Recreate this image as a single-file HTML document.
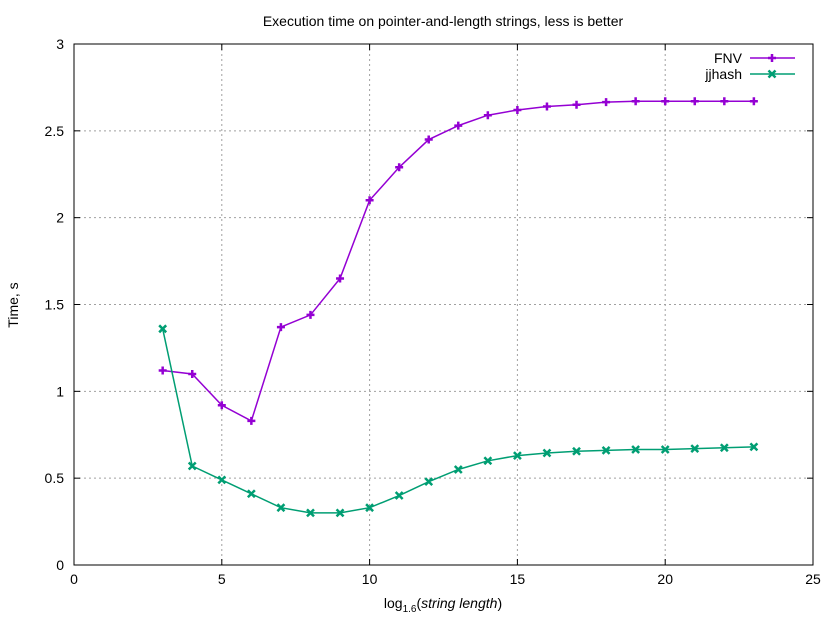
<!DOCTYPE html>
<html><head><meta charset="utf-8"><style>
body{margin:0;background:#fff;}
svg{display:block;font-family:"Liberation Sans",sans-serif;}
</style></head><body>
<svg id="chart" width="840" height="630"></svg>
<script>
const xTicks=[0,5,10,15,20,25];
const yTicks=[0,0.5,1,1.5,2,2.5,3];
const yTickLabels=["0","0.5","1","1.5","2","2.5","3"];
const xValues=[3,4,5,6,7,8,9,10,11,12,13,14,15,16,17,18,19,20,21,22,23];
const fnvValues=[1.12,1.10,0.92,0.83,1.37,1.44,1.65,2.10,2.29,2.45,2.53,2.59,2.62,2.64,2.65,2.665,2.67,2.67,2.67,2.67,2.67];
const jjValues=[1.36,0.57,0.49,0.41,0.33,0.30,0.30,0.33,0.40,0.48,0.55,0.60,0.63,0.645,0.655,0.66,0.665,0.665,0.67,0.675,0.68];

const L=74,R=813,T=44,B=565;
const sx=v=>L+(v-0)/(25-0)*(R-L);
const sy=v=>B-(v-0)/(3-0)*(B-T);
const svg=document.getElementById('chart');
const NS='http://www.w3.org/2000/svg';
function mk(tag,attrs,parent){const e=document.createElementNS(NS,tag);for(const k in attrs)e.setAttribute(k,attrs[k]);(parent||svg).appendChild(e);return e;}

// grid
xTicks.forEach(v=>{
  if(v>0&&v<25){const g=mk('line',{x1:sx(v),x2:sx(v),y1:T,y2:B,stroke:'#a0a0a0','stroke-dasharray':'2,3','stroke-width':1});
  
  }
  const t=mk('text',{x:sx(v),y:B+19,'text-anchor':'middle','font-size':14});t.textContent=v;
  
  
  mk('line',{x1:sx(v),x2:sx(v),y1:B,y2:B-6,stroke:'#000'});
  mk('line',{x1:sx(v),x2:sx(v),y1:T,y2:T+6,stroke:'#000'});
});
yTicks.forEach((v,i)=>{
  if(v>0&&v<3){const g=mk('line',{x1:L,x2:R,y1:sy(v),y2:sy(v),stroke:'#a0a0a0','stroke-dasharray':'2,3','stroke-width':1});
  
  }
  const t=mk('text',{x:L-10,y:sy(v)+5,'text-anchor':'end','font-size':14});t.textContent=yTickLabels[i];
  
  
  mk('line',{x1:L,x2:L+6,y1:sy(v),y2:sy(v),stroke:'#000'});
  mk('line',{x1:R,x2:R-6,y1:sy(v),y2:sy(v),stroke:'#000'});
});
const frame=mk('rect',{x:L,y:T,width:R-L,height:B-T,fill:'none',stroke:'#000'});



function plus(x,y,c,p){mk('path',{d:`M${x-4},${y}h8M${x},${y-4}v8`,stroke:c,'stroke-width':2.5},p);}
function cross(x,y,c,p){mk('path',{d:`M${x-3.5},${y-3.5}l7,7M${x-3.5},${y+3.5}l7,-7`,stroke:c,'stroke-width':2.5},p);}
function series(vals,color,marker,name){
  const g=mk('g',{});
  
  
  mk('polyline',{points:xValues.map((x,i)=>sx(x)+','+sy(vals[i])).join(' '),fill:'none',stroke:color,'stroke-width':1.5},g);
  xValues.forEach((x,i)=>marker(sx(x),sy(vals[i]),color,g));
}
series(fnvValues,'#9400d3',plus,'series-fnv');
series(jjValues,'#009e73',cross,'series-jjhash');

// legend
function legend(y,label,color,marker,name){
  const g=mk('g',{});
  
  
  const t=mk('text',{x:742,y:y+5,'text-anchor':'end','font-size':14},g);t.textContent=label;
  mk('line',{x1:750,x2:795,y1:y,y2:y,stroke:color,'stroke-width':1.5},g);
  marker(772,y,color,g);
}
legend(58,'FNV','#9400d3',plus,'legend-entry-fnv');
legend(74,'jjhash','#009e73',cross,'legend-entry-jjhash');

const title=mk('text',{x:443,y:26,'text-anchor':'middle','font-size':14});
title.textContent='Execution time on pointer-and-length strings, less is better';


const yt=mk('text',{x:0,y:0,'text-anchor':'middle','font-size':14,transform:'translate(18,305) rotate(-90)'});
yt.textContent='Time, s';


const xt=mk('text',{x:443,y:608,'text-anchor':'middle','font-size':14});
xt.innerHTML='log<tspan font-size="10" dy="4">1.6</tspan><tspan dy="-4">(</tspan><tspan font-style="italic">string length</tspan>)';


</script>
</body></html>
